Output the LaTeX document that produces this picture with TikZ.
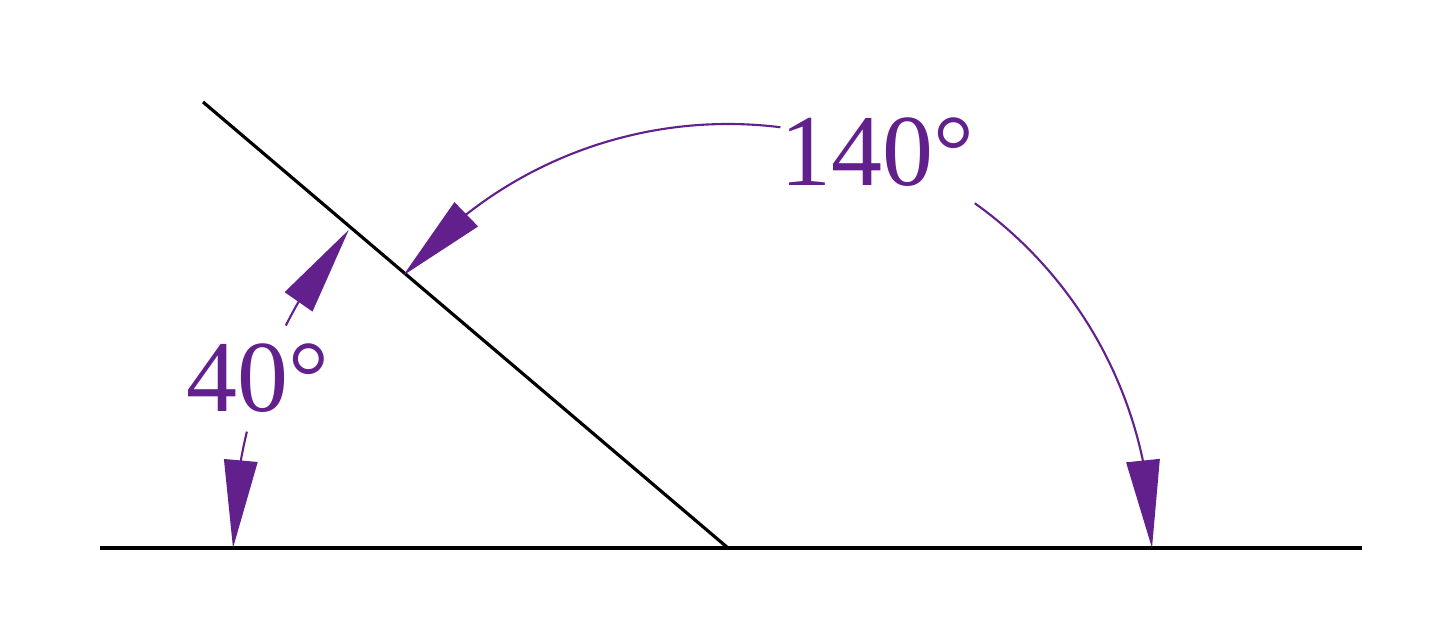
\documentclass[tikz,border=0pt]{standalone}
\usepackage{fontspec}
\setmainfont{Liberation Serif}
\usetikzlibrary{arrows.meta,bending}
\definecolor{angpurple}{RGB}{98,32,140}
\begin{document}
\begin{tikzpicture}[
  baseline/.style={black, line width=0.9pt},
  anglearc/.style={angpurple, line width=0.6pt},
  arrowtip/.style={-{Triangle[length=25pt,width=9.5pt,flex]}},
  anglelabel/.style={text=angpurple, font=\fontsize{29}{34}\selectfont, inner sep=0pt}
]
\useasboundingbox (0,0) rectangle (14.4,6.24);
\coordinate (O) at (7.28,0.76);
\coordinate (L) at (1.00,0.76);
\coordinate (R) at (13.62,0.76);
\coordinate (A) at (2.03,5.22);
\draw[baseline] (L) -- (R);
\draw[baseline] (O) -- (A);
\node[anglelabel] (l40) at (2.58,2.46) {40°};
\node[anglelabel] (l140) at (8.77,4.72) {140°};
% 40 degree arc
\draw[anglearc, arrowtip] (O) ++(153.3:4.95) arc[start angle=153.3, end angle=140, radius=4.95];
\draw[anglearc, arrowtip] (O) ++(166.4:4.95) arc[start angle=166.4, end angle=180, radius=4.95];
% 140 degree arc
\draw[anglearc, arrowtip] (O) ++(82.9:4.24) arc[start angle=82.9, end angle=140, radius=4.24];
\draw[anglearc, arrowtip] (O) ++(54.4:4.24) arc[start angle=54.4, end angle=0, radius=4.24];
\end{tikzpicture}
\end{document}
